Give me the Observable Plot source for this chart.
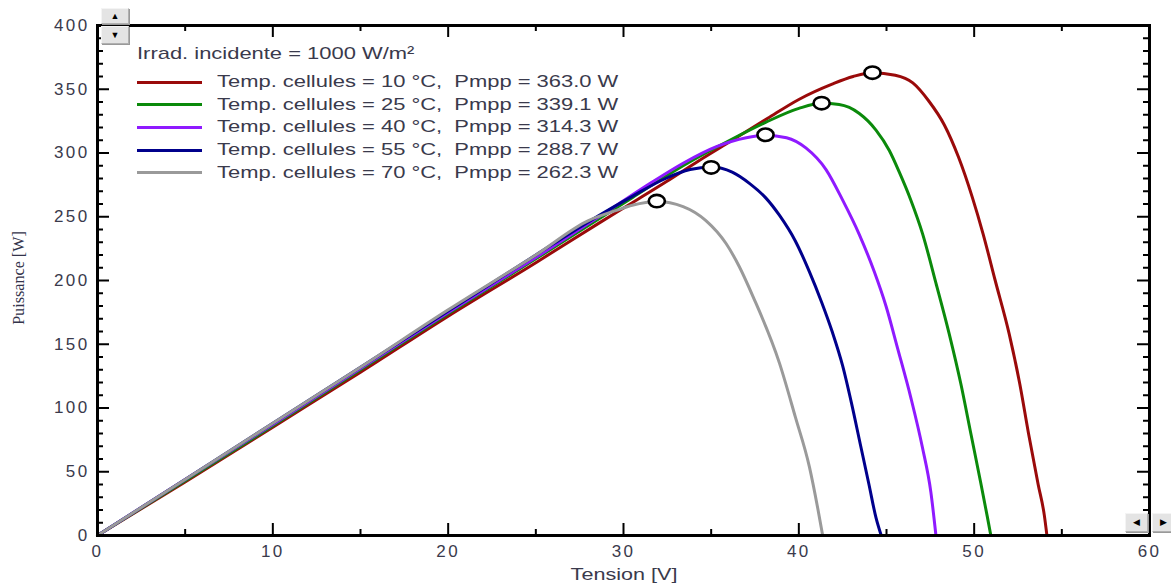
<!DOCTYPE html>
<html><head><meta charset="utf-8">
<script src="https://cdn.jsdelivr.net/npm/d3@7"></script>
<script src="https://cdn.jsdelivr.net/npm/@observablehq/plot@0.6"></script>
<style>
body{margin:0;background:#fff;}
#wrap{position:relative;width:1171px;height:584px;overflow:hidden;font-family:"Liberation Sans",Arial,sans-serif;color:#3a3a4c;}
#wrap svg{position:absolute;left:0;top:0;}
.lg{position:absolute;left:137px;height:20px;display:flex;align-items:center;white-space:pre;font-size:17px;}
.sw{width:65px;height:3px;margin-right:15px;}
.tx{display:inline-block;white-space:pre;transform:scaleX(1.29);transform-origin:left center;}
.btn{position:absolute;background:#e4e4e4;border:1px solid #b0b0b0;border-top-color:#f4f4f4;border-left-color:#f4f4f4;box-shadow:1px 1px 0 #999;display:flex;align-items:center;justify-content:center;font-size:9px;color:#000;line-height:1;}
</style></head><body><div id="wrap"></div>
<script>
// ---- data ----
const irradiance = "Irrad. incidente = 1000 W/m²";
const temps = [10, 25, 40, 55, 70];
const pmpp = [363.0, 339.1, 314.3, 288.7, 262.3];
const vmpp = [44.2, 41.3, 38.1, 35.0, 31.9];
const colors = ["#9a0a0a", "#0b8a0b", "#8f1aff", "#00008c", "#9a9a9a"];

const v10 = [0, 5, 10, 15, 20, 25, 28.6, 30.5, 32.5, 34.3, 36.2, 38.2, 40.0, 41.9, 43.1, 44.2, 45.5, 46.5, 47.4, 48.3, 49.1, 49.9, 50.5, 51.2, 52.0, 52.6, 53.1, 53.65, 54.0, 54.15];
const p10 = [0, 42, 85, 128, 172, 214, 245, 261, 278, 294, 310, 327, 342, 354, 360, 363, 361, 355, 341, 322, 297, 265, 237, 200, 158, 119, 80, 40, 16, 0];

const v25 = [0, 5, 10, 15, 20, 25, 30.5, 33.4, 36.2, 38.1, 40.0, 41.3, 42.3, 43.45, 44.4, 45.16, 45.73, 46.39, 47.05, 47.82, 48.58, 49.24, 49.81, 50.38, 50.76, 50.95];
const p25 = [0, 43, 86, 130, 174, 217, 265, 290, 311, 324, 335, 339, 338, 331, 318, 302, 285, 263, 237, 198, 158, 119, 80, 41, 14, 0];

const v40 = [0, 5, 10, 15, 20, 25, 29.5, 31.5, 33.4, 35.3, 37.0, 38.1, 39.3, 40.4, 41.55, 42.5, 43.45, 44.3, 44.97, 45.63, 46.39, 47.05, 47.53, 47.82];
const p40 = [0, 44, 87, 131, 175, 218, 258, 276, 292, 305, 312, 314, 312, 304, 287, 263, 236, 207, 180, 147, 108, 69, 34, 0];

const v55 = [0, 5, 10, 15, 20, 25, 28, 30.5, 32.4, 33.8, 35.0, 36.2, 37.2, 38.1, 38.9, 39.8, 40.6, 41.3, 41.9, 42.5, 43.0, 43.5, 44.0, 44.4, 44.7];
const p55 = [0, 44, 88, 132, 176, 220, 246, 266, 280, 287, 289, 285, 276, 265, 251, 231, 207, 183, 160, 133, 104, 72, 40, 14, 0];

const v70 = [0, 5, 10, 15, 20, 25, 28, 29.6, 30.5, 31.9, 33.4, 34.7, 35.85, 36.6, 37.4, 38.9, 39.8, 40.6, 41.07, 41.36];
const p70 = [0, 44, 88, 132, 177, 220, 247, 255, 259, 262, 258, 247, 229, 211, 187, 135, 93, 54, 22, 0];

const xTicks = [0, 10, 20, 30, 40, 50, 60];
const xMinor = [5, 15, 25, 35, 45, 55];
const yTicks = [0, 50, 100, 150, 200, 250, 300, 350, 400];
const yMinor = d3.range(0, 401, 10).filter(d => d % 50 !== 0);
const xLabel = "Tension [V]";
const yLabel = "Puissance [W]";

// ---- build ----
const names = temps.map((t, i) => `Temp. cellules = ${t} °C,  Pmpp = ${pmpp[i].toFixed(1)} W`);
const vs = [v10, v25, v40, v55, v70], ps = [p10, p25, p40, p55, p70];
const rows = vs.flatMap((v, i) => v.map((x, j) => ({V: x, P: ps[i][j], s: names[i]})));
const mpp = names.map((s, i) => ({V: vmpp[i], P: pmpp[i], s}));

const W = 1171, H = 584, mL = 97, mR = 22, mT = 25, mB = 49;
const pw = W - mL - mR, ph = H - mT - mB;
const major = 12, minor = 6;

const ellipse = {draw(ctx, size) {
  const r = Math.sqrt(size / Math.PI), rx = r * 1.3, ry = r, k = 0.5523;
  ctx.moveTo(rx, 0);
  ctx.bezierCurveTo(rx, ry * k, rx * k, ry, 0, ry);
  ctx.bezierCurveTo(-rx * k, ry, -rx, ry * k, -rx, 0);
  ctx.bezierCurveTo(-rx, -ry * k, -rx * k, -ry, 0, -ry);
  ctx.bezierCurveTo(rx * k, -ry, rx, -ry * k, rx, 0);
  ctx.closePath();
}};

const chart = Plot.plot({
  width: W, height: H, marginLeft: mL, marginRight: mR, marginTop: mT, marginBottom: mB,
  x: {domain: [0, 60]},
  y: {domain: [0, 400]},
  color: {domain: names, range: colors},
  style: {fontFamily: "Liberation Sans, Arial, sans-serif", fontSize: "17px", color: "#3a3a4c", background: "transparent", letterSpacing: "2.4px"},
  marks: [
    Plot.axisX(xTicks, {anchor: "bottom", tickSize: 0, tickPadding: 9, label: null, fill: "#3a3a4c"}),
    Plot.axisY(yTicks, {anchor: "left", tickSize: 0, tickPadding: 8, label: null, fill: "#3a3a4c"}),
    Plot.tickX(xTicks, {x: d => d, stroke: "#000", strokeWidth: 2, insetTop: ph - major}),
    Plot.tickX(xTicks, {x: d => d, stroke: "#000", strokeWidth: 2, insetBottom: ph - major}),
    Plot.tickX(xMinor, {x: d => d, stroke: "#000", strokeWidth: 2, insetTop: ph - minor}),
    Plot.tickX(xMinor, {x: d => d, stroke: "#000", strokeWidth: 2, insetBottom: ph - minor}),
    Plot.tickY(yTicks, {y: d => d, stroke: "#000", strokeWidth: 2, insetRight: pw - major}),
    Plot.tickY(yTicks, {y: d => d, stroke: "#000", strokeWidth: 2, insetLeft: pw - major}),
    Plot.tickY(yMinor, {y: d => d, stroke: "#000", strokeWidth: 2, insetRight: pw - minor}),
    Plot.tickY(yMinor, {y: d => d, stroke: "#000", strokeWidth: 2, insetLeft: pw - minor}),
    Plot.line(rows, {x: "V", y: "P", z: "s", stroke: "s", strokeWidth: 3, curve: "monotone-x"}),
    Plot.dot(mpp, {x: "V", y: "P", symbol: ellipse, r: 6.2, fill: "white", stroke: "black", strokeWidth: 2.6}),
    Plot.frame({stroke: "#000", strokeWidth: 3})
  ]
});
const wrap = document.getElementById("wrap");
wrap.appendChild(chart);

// legend
function addDiv(cls, style, html) {
  const d = document.createElement("div");
  d.className = cls; d.style.cssText = style; if (html != null) d.innerHTML = html;
  wrap.appendChild(d); return d;
}
const t = addDiv("lg", "top:44px;");
const ts = document.createElement("span"); ts.className = "tx"; ts.textContent = irradiance; t.appendChild(ts);
const rowY = [72, 94.5, 117, 140, 162.5];
names.forEach((n, i) => {
  const r = addDiv("lg", `top:${rowY[i]}px;`);
  const sw = document.createElement("div"); sw.className = "sw"; sw.style.background = colors[i]; r.appendChild(sw);
  const s = document.createElement("span"); s.className = "tx"; s.textContent = n; r.appendChild(s);
});
// axis titles
const xl = addDiv("", "position:absolute;left:624px;top:565px;font-size:17px;white-space:nowrap;transform:translateX(-50%) scaleX(1.27);");
xl.textContent = xLabel;
const yl = addDiv("", "position:absolute;left:18px;top:278px;font-family:'Liberation Serif',serif;font-size:17px;line-height:17px;white-space:nowrap;color:#33334a;transform:translate(-50%,-50%) rotate(-90deg) scaleX(0.95);");
yl.textContent = yLabel;
// scroll buttons
addDiv("btn", "left:101px;top:8px;width:26px;height:14px;", "&#9650;");
addDiv("btn", "left:101px;top:26px;width:26px;height:16px;", "&#9660;");
addDiv("btn", "left:1125px;top:513px;width:21px;height:17px;", "&#9664;");
addDiv("btn", "left:1152px;top:513px;width:21px;height:17px;", "&#9654;");
</script>
</body></html>
